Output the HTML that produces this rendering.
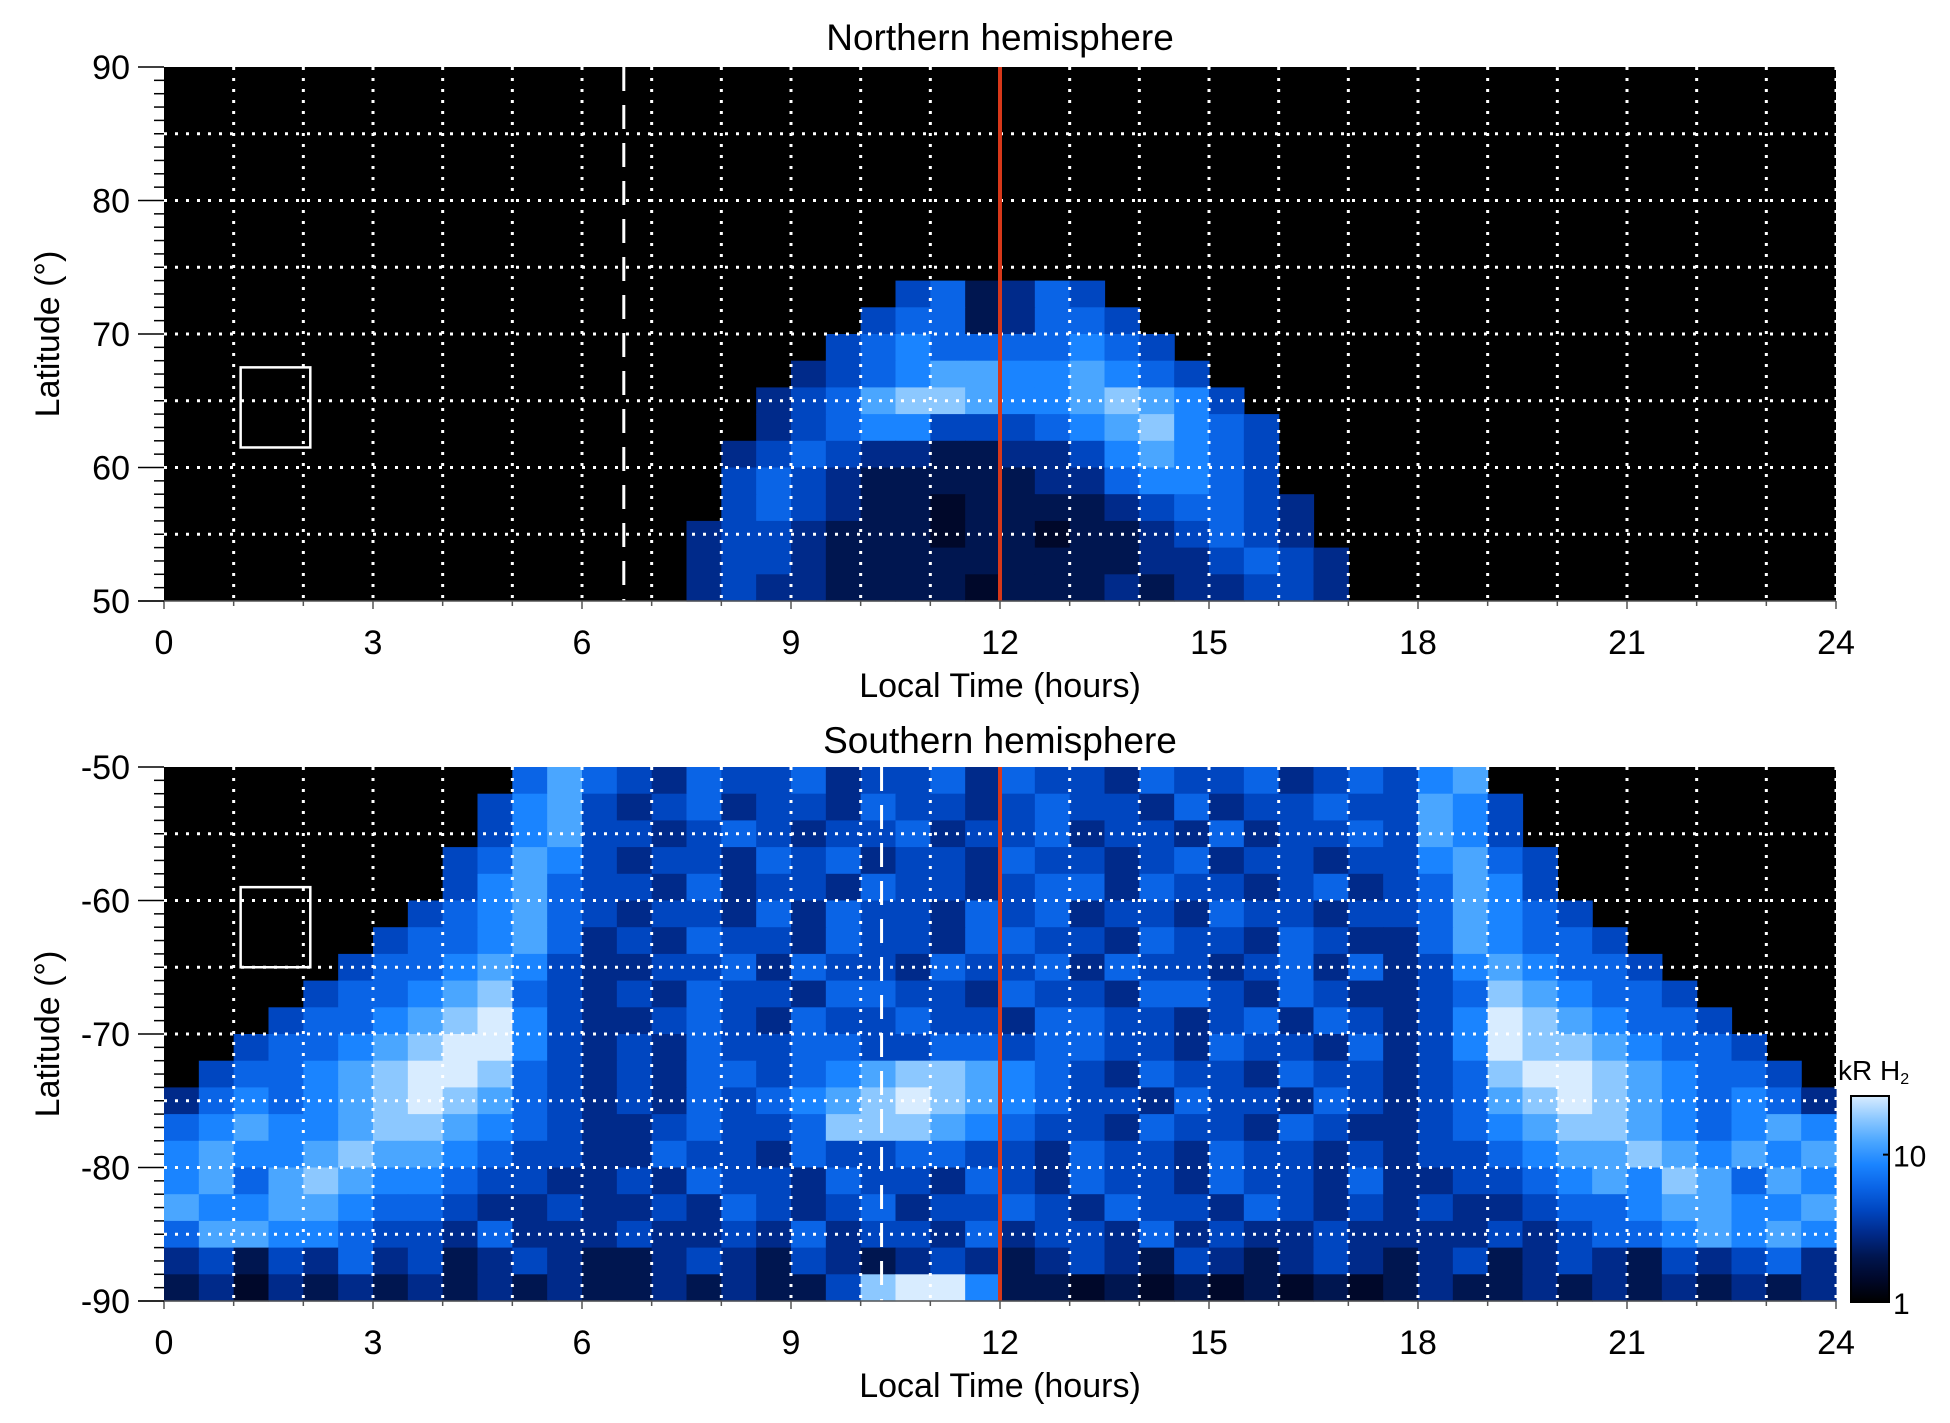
<!DOCTYPE html>
<html><head><meta charset="utf-8"><style>
html,body{margin:0;padding:0;background:#fff;}
svg{display:block;font-family:"Liberation Sans",Arial,sans-serif;}
</style></head><body>
<svg id="chart" width="1950" height="1423" viewBox="0 0 1950 1423"></svg>
<script>
// ---- data ----
const ltTicks = [0,3,6,9,12,15,18,21,24];
const northLatTicks = [50,60,70,80,90];
const southLatTicks = [-50,-60,-70,-80,-90];
const cbTicks = [1,10];
// north rows: from lat 90 downward, 2 deg each; columns 0.5 h each
const northStart = [0,0,0,0,0,0,0,0,21,20,19,18,17,17,16,16,16,15,15,15];
const northVals = ["","","","","","","","",
 "452354","45523554","4565555654","345677667654","34578876678764","345664445678654",
 "3454332233467654","4543222223356654","45432212222345543","344322212212234543",
 "3443222222222334543","3433222212223233443"];
// south rows: from lat -50 downward
const southVals = [
 "0000000000"+"575"+"4354453445354435445345"+"467"+"0000000000",
 "000000000"+"4674"+"3453443544345443534454"+"4764"+"000000000",
 "000000000"+"4674"+"4345434453445344353445"+"4764"+"000000000",
 "00000000"+"45764"+"3443545344354434534434"+"46754"+"00000000",
 "00000000"+"46754"+"4353443544345535443453"+"45764"+"00000000",
 "0000000"+"456754"+"3443535443545344354434"+"457654"+"0000000",
 "000000"+"4556753"+"4354435443554435443543"+"3576554"+"000000",
 "00000"+"45567643"+"3445354435445354434535"+"34676554"+"00000",
 "0000"+"455678543"+"4354435544354435543543"+"345876554"+"0000",
 "000"+"4556789643"+"3454354454435544345354"+"3469876554"+"000",
 "00"+"45567899643"+"4354455445545544354435"+"34698876554"+"00",
 "0"+"455678998543"+"4355456788765435443544"+"345899876554"+"0",
 "3565678987543"+"4354567898765443544354"+"3457898765653",
 "5676678876543"+"3454458887654435443543"+"3456788765676",
 "6766787765443"+"3544354455443544354434"+"3445677876767",
 "6757876654433"+"4354435443543544354435"+"3344567687576",
 "7667765543343"+"3435434534454354435434"+"3433455677667",
 "5776654435333"+"4334353443534435343343"+"3334345567676",
 "3424353423432"+"2343243234323432432343"+"2342343243453",
 "2313232323232"+"2323224899622121212121"+"2322323232323"];
const southStart = southVals.map(()=>0);
const northDashLT = 6.6, southDashLT = 10.3, noonLT = 12;
const northBox = [1.1,2.1,61.5,67.5], southBox = [1.1,2.1,-59,-65];

const palette = ["#000000","#00082a","#001650","#002a8a","#0046c0","#0a64e6","#1a84ff","#4aa6ff","#8cc8ff","#d8ecff"];
const NS="http://www.w3.org/2000/svg";
const svg=document.getElementById('chart');
function mk(tag,attrs,parent){const e=document.createElementNS(NS,tag);for(const k in attrs)e.setAttribute(k,attrs[k]);(parent||svg).appendChild(e);return e;}

const X0=164,X1=1836;
const xs=lt=>X0+(lt/24)*(X1-X0);

function panel(name,top,bot,latTop,latBot,start,vals,yticks,dashLT,box,title,titleY,tickY,labY,ylabY){
  const ys=lat=>top+(latTop-lat)/(latTop-latBot)*(bot-top);
  const g=mk('g',{});
  
  
  const bg=mk('rect',{x:X0,y:top,width:X1-X0,height:bot-top,fill:'#000'},g);
  
  
  const dir=latTop>latBot?-1:1;
  const hm=mk('g',{},g);
  
  
  vals.forEach((s,r)=>{
    const la=latTop+dir*2*r, lb=la+dir*2;
    for(let i=0;i<s.length;i++){
      const v=+s[i]; if(!v)continue;
      const c=start[r]+i;
      const y1=ys(la),y2=ys(lb);
      const cell=mk('rect',{x:xs(c*0.5),y:Math.min(y1,y2),width:xs(0.5)-xs(0)+0.6,height:Math.abs(y2-y1)+0.6,fill:palette[v]},hm);
      
      
    }
  });
  // grid
  for(let h=1;h<=24;h++){
    const l=mk('line',{x1:xs(h),x2:xs(h),y1:top,y2:bot,stroke:'#fff','stroke-width':3,'stroke-dasharray':'3 8'},g);
    
    
  }
  for(let k=1;k<8;k++){
    const la=latTop+dir*5*k;
    const l=mk('line',{x1:X0,x2:X1,y1:ys(la),y2:ys(la),stroke:'#fff','stroke-width':3,'stroke-dasharray':'3 8'},g);
    
    
  }
  const d=mk('line',{x1:xs(dashLT),x2:xs(dashLT),y1:top,y2:bot,stroke:'#fff','stroke-width':3,'stroke-dasharray':'24 14'},g);
  
  
  const rl=mk('line',{x1:xs(noonLT),x2:xs(noonLT),y1:top,y2:bot,stroke:'#d8381a','stroke-width':4},g);
  
  
  const bx=mk('rect',{x:xs(box[0]),y:Math.min(ys(box[2]),ys(box[3])),width:xs(box[1])-xs(box[0]),height:Math.abs(ys(box[3])-ys(box[2])),fill:'none',stroke:'#fff','stroke-width':2.5},g);
  
  
  const ax=mk('line',{x1:X0-26,x2:X1,y1:bot,y2:bot,stroke:'#555','stroke-width':1.5},g);
  
  
  for(let h=0;h<=24;h++){
    const t=mk('line',{x1:xs(h),x2:xs(h),y1:bot,y2:bot+(h%3?5:8),stroke:'#555','stroke-width':1.5},g);
    
    
  }
  for(let k=0;k<=40;k++){
    const la=latTop+dir*k;
    const t=mk('line',{x1:X0-(k%10?10:26),x2:X0,y1:ys(la),y2:ys(la),stroke:'#000','stroke-width':1.5},g);
    
    
  }
  ltTicks.forEach(v=>{
    const t=mk('text',{x:xs(v),y:tickY,'font-size':34,'text-anchor':'middle',fill:'#000'},g);
    t.textContent=v;
    
    
  });
  yticks.forEach(v=>{
    const t=mk('text',{x:130,y:ys(v)+12,'font-size':34,'text-anchor':'end',fill:'#000'},g);
    t.textContent=v;
    
    
  });
  const cx=(X0+X1)/2;
  const tt=mk('text',{x:cx,y:titleY,'font-size':37,'text-anchor':'middle',fill:'#000'},g);
  tt.textContent=title;
  
  
  const xl=mk('text',{x:cx,y:labY,'font-size':34,'text-anchor':'middle',fill:'#000'},g);
  xl.textContent='Local Time (hours)';
  
  
  const yl=mk('text',{x:0,y:0,'font-size':34,'text-anchor':'middle',fill:'#000',transform:`translate(59,${ylabY}) rotate(-90)`},g);
  yl.textContent='Latitude (°)';
  
  
}
panel('northern',67,601,90,50,northStart,northVals,northLatTicks,northDashLT,northBox,'Northern hemisphere',50,654,697,334);
panel('southern',767,1301,-50,-90,southStart,southVals,southLatTicks,southDashLT,southBox,'Southern hemisphere',753,1354,1397,1034);

// colorbar
const defs=mk('defs',{});
const gr=mk('linearGradient',{id:'cbg',x1:0,y1:1,x2:0,y2:0},defs);
palette.forEach((c,i)=>mk('stop',{offset:(i/9),'stop-color':c},gr));
const cbTop=1096,cbBot=1302,cbX=1851,cbW=38;
const cbMax=25;
const cy=v=>cbBot-Math.log10(v)/Math.log10(cbMax)*(cbBot-cbTop);
const cb=mk('rect',{x:cbX,y:cbTop,width:cbW,height:cbBot-cbTop,fill:'url(#cbg)',stroke:'#000','stroke-width':2});


cbTicks.forEach(v=>{
  const t=mk('text',{x:1893,y:cy(v)+12,'font-size':30,fill:'#000'});
  t.textContent=v;
  
  
  const tk=mk('line',{x1:cbX+cbW-6,x2:cbX+cbW,y1:cy(v),y2:cy(v),stroke:'#000','stroke-width':2});
  
  
});
const cbl=mk('text',{x:1838,y:1080,'font-size':28,fill:'#000'});
cbl.innerHTML='kR H<tspan font-size="16" dy="4">2</tspan>';


</script>
</body></html>
